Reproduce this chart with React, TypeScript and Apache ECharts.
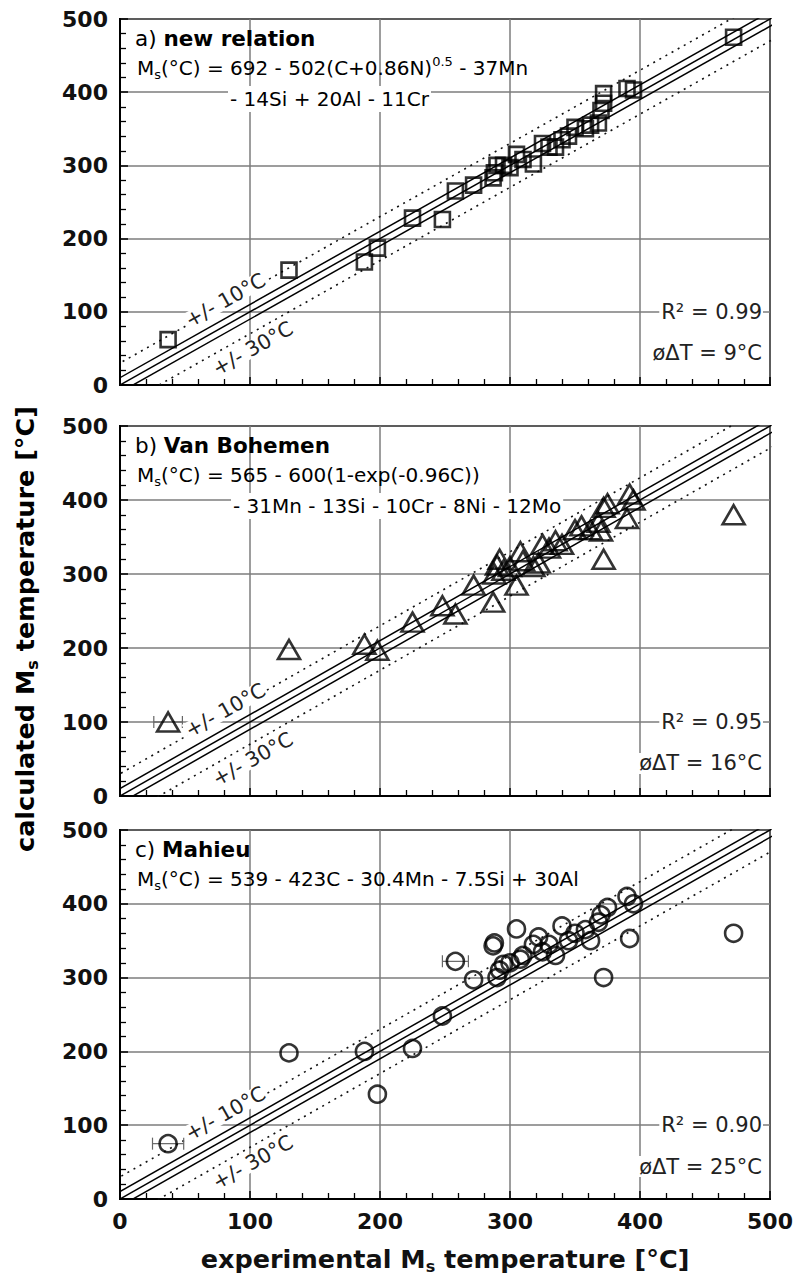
import React, { useEffect, useRef } from "react";
import * as echarts from "echarts";

// ---------- data ----------
const axisMin = 0;
const axisMax = 500;
const axisStep = 100;

const panelLetters = ["a) ", "b) ", "c) "];
const panelNames = ["new relation", "Van Bohemen", "Mahieu"];
const r2Values = ["0.99", "0.95", "0.90"];
const meanDeltaT = ["9", "16", "25"];

// band lines y = x + offset
const solidOffsets = [0, 10, -10];
const dottedOffsets = [30, -30];

// a) new relation (squares)
const aExp = [37, 130, 188, 198, 225, 248, 258, 272, 287, 288, 290, 295, 300, 305, 310, 318, 325, 330, 335, 340, 345, 350, 358, 362, 368, 370, 372, 372, 390, 395, 472];
const aCalc = [62, 157, 168, 187, 228, 226, 265, 273, 283, 290, 300, 300, 297, 315, 308, 302, 330, 325, 325, 335, 340, 352, 350, 355, 358, 375, 385, 398, 405, 403, 475];

// b) Van Bohemen (triangles)
const bExp = [37, 130, 188, 198, 225, 248, 258, 272, 287, 288, 290, 292, 295, 300, 305, 308, 310, 318, 322, 325, 330, 335, 340, 350, 355, 362, 368, 370, 372, 372, 375, 390, 392, 395, 472];
const bCalc = [100, 198, 205, 197, 235, 257, 246, 285, 262, 300, 312, 320, 305, 310, 285, 330, 318, 310, 315, 340, 335, 345, 340, 360, 365, 360, 370, 358, 320, 390, 395, 375, 408, 400, 380];

// c) Mahieu (circles)
const cExp = [37, 130, 188, 198, 225, 248, 258, 272, 287, 288, 290, 292, 295, 300, 305, 308, 310, 318, 322, 325, 330, 335, 340, 345, 350, 358, 362, 368, 370, 372, 375, 390, 392, 395, 472];
const cCalc = [75, 198, 200, 142, 204, 248, 322, 297, 343, 347, 300, 310, 318, 320, 366, 325, 330, 345, 355, 335, 345, 330, 370, 350, 360, 365, 350, 375, 385, 300, 395, 410, 353, 400, 360];

// horizontal error bars: [x, y, half-width]
const bErrX = [37];
const bErrY = [100];
const bErrHalf = [11];
const cErrX = [37, 258];
const cErrY = [75, 322];
const cErrHalf = [12, 10];

// ---------- layout ----------
const LEFT = 120;
const WIDTH = 650;
const TOPS = [19, 426, 830];
const HEIGHTS = [366, 370, 369];
const FONT = '"DejaVu Sans", "Liberation Sans", Arial, sans-serif';

const px = (x: number) => LEFT + (x / axisMax) * WIDTH;
const py = (i: number, y: number) => TOPS[i] + HEIGHTS[i] - (y / axisMax) * HEIGHTS[i];

const zip = (xs: number[], ys: number[]) => xs.map((x, k) => [x, ys[k]]);
const zip3 = (xs: number[], ys: number[], hs: number[]) => xs.map((x, k) => [x, ys[k], hs[k]]);

const formulaRich = {
  n: { fontFamily: FONT, fontSize: 20, color: "#222", lineHeight: 26 },
  sub: { fontFamily: FONT, fontSize: 13, color: "#222", lineHeight: 10, verticalAlign: "bottom" },
  sup: { fontFamily: FONT, fontSize: 13, color: "#222", lineHeight: 10, verticalAlign: "top" },
};

const formulaLines: string[][] = [
  ["{n|M}{sub|s}{n|(°C) = 692 - 502(C+0.86N)}{sup|0.5}{n| - 37Mn}", "{n|- 14Si + 20Al - 11Cr}"],
  ["{n|M}{sub|s}{n|(°C) = 565 - 600(1-exp(-0.96C))}", "{n|- 31Mn - 13Si - 10Cr - 8Ni - 12Mo}"],
  ["{n|M}{sub|s}{n|(°C) = 539 - 423C - 30.4Mn - 7.5Si + 30Al}"],
];
const line2X = [228, 231];

const App: React.FC = () => {
  const ref = useRef<HTMLDivElement>(null);

  useEffect(() => {
    if (!ref.current) return;
    const chart = echarts.init(ref.current, undefined, { renderer: "svg" });

    const grids = TOPS.map((t, i) => ({
      left: LEFT,
      width: WIDTH,
      top: t,
      height: HEIGHTS[i],
      show: true,
      borderColor: "#000",
      borderWidth: 2,
      backgroundColor: "transparent",
    }));

    const axisCommon = (i: number) => ({
      gridIndex: i,
      type: "value",
      min: axisMin,
      max: axisMax,
      interval: axisStep,
      axisLine: { show: true, onZero: false, lineStyle: { color: "#000", width: 2 } },
      axisTick: { show: true, inside: true, length: 8, lineStyle: { color: "#000", width: 1.5 } },
      minorTick: { show: true, splitNumber: 5, length: 6, lineStyle: { color: "#000", width: 1.3 } },
      splitLine: { show: true, lineStyle: { color: "#7c7c7c", width: 1.5 } },
    });

    const labelStyle = { fontFamily: FONT, fontWeight: "bold", fontSize: 22, color: "#111" };
    const titleRich = {
      n: { fontFamily: FONT, fontWeight: "bold", fontSize: 25.5, color: "#111", lineHeight: 30 },
      s: { fontFamily: FONT, fontWeight: "bold", fontSize: 16, color: "#111", lineHeight: 12, verticalAlign: "bottom" },
    };

    const xAxes = [0, 1, 2].map((i) => ({
      ...axisCommon(i),
      axisLabel: { show: i === 2, margin: 11, ...labelStyle },
      name: i === 2 ? "{n|experimental M}{s|s}{n| temperature [°C]}" : "",
      nameLocation: "middle",
      nameGap: 45,
      nameTextStyle: { rich: titleRich },
    }));

    const yAxes = [0, 1, 2].map((i) => ({
      ...axisCommon(i),
      axisLabel: { show: true, margin: 12, ...labelStyle },
    }));

    const series: any[] = [];
    [0, 1, 2].forEach((i) => {
      solidOffsets.forEach((d) => {
        series.push({
          type: "line",
          xAxisIndex: i,
          yAxisIndex: i,
          data: [[axisMin - axisMax, axisMin - axisMax + d], [axisMax * 2, axisMax * 2 + d]],
          symbol: "none",
          clip: true,
          lineStyle: { color: "#000", width: 1.5 },
          silent: true,
          z: 3,
        });
      });
      dottedOffsets.forEach((d) => {
        series.push({
          type: "line",
          xAxisIndex: i,
          yAxisIndex: i,
          data: [[axisMin - axisMax, axisMin - axisMax + d], [axisMax * 2, axisMax * 2 + d]],
          symbol: "none",
          clip: true,
          lineStyle: { color: "#111", width: 1.6, type: [2, 5] },
          silent: true,
          z: 3,
        });
      });
    });

    const errRender = (params: any, api: any) => {
      const x = api.value(0);
      const y = api.value(1);
      const h = api.value(2);
      const p1 = api.coord([x - h, y]);
      const p2 = api.coord([x + h, y]);
      const st = { stroke: "#666", lineWidth: 1.2 };
      return {
        type: "group",
        children: [
          { type: "line", shape: { x1: p1[0], y1: p1[1], x2: p2[0], y2: p2[1] }, style: st },
          { type: "line", shape: { x1: p1[0], y1: p1[1] - 6, x2: p1[0], y2: p1[1] + 6 }, style: st },
          { type: "line", shape: { x1: p2[0], y1: p2[1] - 6, x2: p2[0], y2: p2[1] + 6 }, style: st },
        ],
      };
    };

    series.push({
      type: "custom",
      xAxisIndex: 1,
      yAxisIndex: 1,
      data: zip3(bErrX, bErrY, bErrHalf),
      renderItem: errRender,
      encode: { x: 0, y: 1 },
      z: 4,
    });
    series.push({
      type: "custom",
      xAxisIndex: 2,
      yAxisIndex: 2,
      data: zip3(cErrX, cErrY, cErrHalf),
      renderItem: errRender,
      encode: { x: 0, y: 1 },
      z: 4,
    });

    const markerStyle = { color: "rgba(255,255,255,0)", borderColor: "#000", borderWidth: 2.6 };
    series.push({
      type: "scatter",
      xAxisIndex: 0,
      yAxisIndex: 0,
      data: zip(aExp, aCalc),
      symbol: "rect",
      symbolSize: 15,
      itemStyle: markerStyle,
      z: 5,
    });
    series.push({
      type: "scatter",
      xAxisIndex: 1,
      yAxisIndex: 1,
      data: zip(bExp, bCalc),
      symbol: "triangle",
      symbolSize: [22, 19],
      itemStyle: markerStyle,
      z: 5,
    });
    series.push({
      type: "scatter",
      xAxisIndex: 2,
      yAxisIndex: 2,
      data: zip(cExp, cCalc),
      symbol: "circle",
      symbolSize: 17,
      itemStyle: markerStyle,
      z: 5,
    });

    const ang = Math.atan(HEIGHTS[0] / WIDTH);
    const graphics: any[] = [];

    // y axis title
    graphics.push({
      type: "text",
      x: 25,
      y: 629,
      rotation: Math.PI / 2,
      z: 100,
      style: {
        text: "{n|calculated M}{s|s}{n| temperature [°C]}",
        rich: titleRich,
        align: "center",
        verticalAlign: "middle",
      },
    });

    [0, 1, 2].forEach((i) => {
      const top = TOPS[i];
      graphics.push({
        type: "text",
        x: 135,
        y: top + 19,
        z: 100,
        style: {
          text: `{r|${panelLetters[i]}}{b|${panelNames[i]}}`,
          rich: {
            r: { fontFamily: FONT, fontSize: 21.5, color: "#111" },
            b: { fontFamily: FONT, fontSize: 21.5, fontWeight: "bold", color: "#111" },
          },
          align: "left",
          verticalAlign: "middle",
        },
      });
      formulaLines[i].forEach((ln, k) => {
        graphics.push({
          type: "text",
          x: k === 0 ? 135 : line2X[i],
          y: top + (k === 0 ? 49 : 80),
          z: 100,
          style: {
            text: ln,
            rich: formulaRich,
            align: "left",
            verticalAlign: "middle",
            backgroundColor: k === 0 ? undefined : "#fff",
            padding: [0, 2, 0, 2],
          },
        });
      });
      graphics.push({
        type: "text",
        x: px(81),
        y: py(i, 116),
        rotation: ang,
        z: 100,
        style: {
          text: "+/- 10°C",
          fontFamily: FONT,
          fontSize: 20.5,
          fill: "#222",
          align: "center",
          verticalAlign: "middle",
          backgroundColor: "#fff",
          padding: [-2, 1, -2, 1],
        },
      });
      graphics.push({
        type: "text",
        x: px(102),
        y: py(i, 50),
        rotation: ang,
        z: 100,
        style: {
          text: "+/- 30°C",
          fontFamily: FONT,
          fontSize: 20.5,
          fill: "#222",
          align: "center",
          verticalAlign: "middle",
          backgroundColor: "#fff",
          padding: [-2, 1, -2, 1],
        },
      });
      graphics.push({
        type: "text",
        x: 763,
        y: py(i, 100),
        z: 100,
        style: {
          text: `R² = ${r2Values[i]}`,
          fontFamily: FONT,
          fontSize: 21,
          fill: "#222",
          align: "right",
          verticalAlign: "middle",
          backgroundColor: "#fff",
          padding: [0, 1, 0, 2],
        },
      });
      graphics.push({
        type: "text",
        x: 763,
        y: py(i, 44),
        z: 100,
        style: {
          text: `øΔT = ${meanDeltaT[i]}°C`,
          fontFamily: FONT,
          fontSize: 21,
          fill: "#222",
          align: "right",
          verticalAlign: "middle",
          backgroundColor: "#fff",
          padding: [0, 1, 0, 2],
        },
      });
    });

    chart.setOption({
      animation: false,
      backgroundColor: "#fff",
      grid: grids,
      xAxis: xAxes,
      yAxis: yAxes,
      series,
      graphic: { elements: graphics },
    });

    return () => chart.dispose();
  }, []);

  return (
    <div
      ref={ref}
      style={{ position: "absolute", left: 0, top: 0, width: 799, height: 1286 }}
    />
  );
};

export default App;
